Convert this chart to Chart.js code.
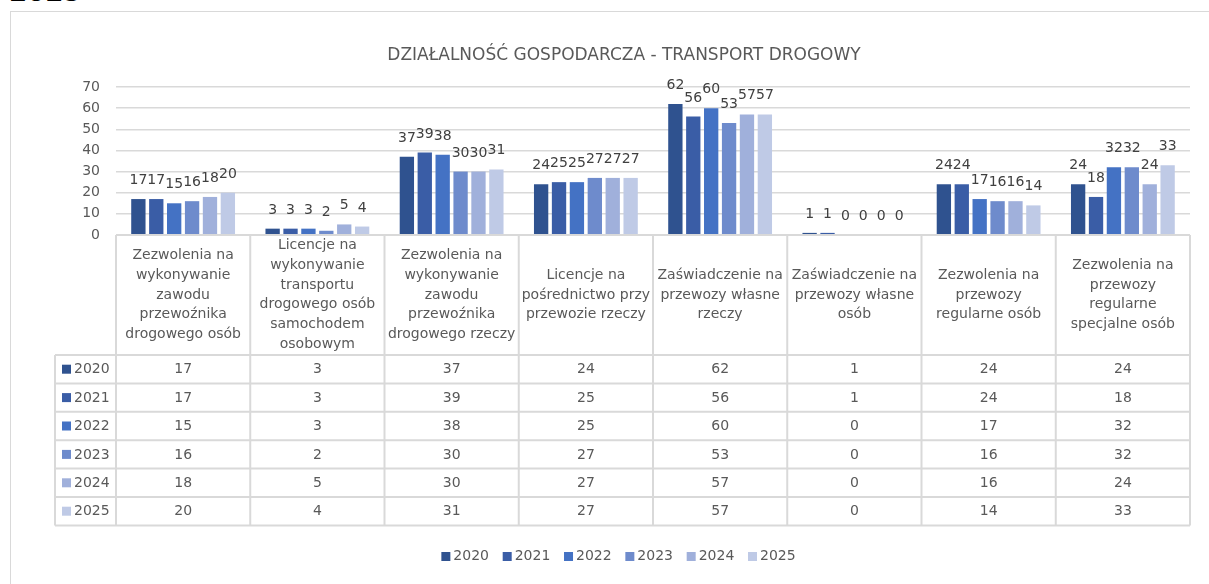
<!DOCTYPE html>
<html><head><meta charset="utf-8">
<script src="https://cdn.jsdelivr.net/npm/chart.js@4.4.1/dist/chart.umd.min.js"></script>
<style>
html,body{margin:0;padding:0;width:1209px;height:584px;overflow:hidden;background:#fff;}
#head{position:absolute;left:9px;top:-21px;font:bold 26px "DejaVu Sans";line-height:26px;color:#000;}
#frame{position:absolute;left:10px;top:11px;width:1260px;height:600px;border:1.5px solid #d9d9d9;box-sizing:border-box;}
#wrap{position:absolute;left:0;top:0;width:1209px;height:584px;}
</style></head><body>
<div id="head">2025</div>
<div id="frame"></div>
<div id="wrap"><canvas id="c"></canvas></div>
<script>
const chartTitle = 'DZIAŁALNOŚĆ GOSPODARCZA - TRANSPORT DROGOWY';
const categories = [
  ['Zezwolenia na','wykonywanie','zawodu','przewoźnika','drogowego osób'],
  ['Licencje na','wykonywanie','transportu','drogowego osób','samochodem','osobowym'],
  ['Zezwolenia na','wykonywanie','zawodu','przewoźnika','drogowego rzeczy'],
  ['Licencje na','pośrednictwo przy','przewozie rzeczy'],
  ['Zaświadczenie na','przewozy własne','rzeczy'],
  ['Zaświadczenie na','przewozy własne','osób'],
  ['Zezwolenia na','przewozy','regularne osób'],
  ['Zezwolenia na','przewozy','regularne','specjalne osób']
];
const years = ['2020','2021','2022','2023','2024','2025'];
const v2020 = [17,3,37,24,62,1,24,24];
const v2021 = [17,3,39,25,56,1,24,18];
const v2022 = [15,3,38,25,60,0,17,32];
const v2023 = [16,2,30,27,53,0,16,32];
const v2024 = [18,5,30,27,57,0,16,24];
const v2025 = [20,4,31,27,57,0,14,33];
const yMin = 0, yMax = 70, yStep = 10;
const colors = ['#2F528F','#3A5DA6','#4472C4','#6E8BCC','#A0B0DB','#BFCAE6'];
const seriesValues = [v2020,v2021,v2022,v2023,v2024,v2025];

const FONT = '"DejaVu Sans"';
const TXT = '#595959';
const LINE = '#d9d9d9';

const drawExtras = {
  id:'drawExtras',
  afterDraw(chart){
    const ctx = chart.ctx;
    const ca = chart.chartArea;
    const xs = chart.scales.x;
    const n = categories.length;
    const catW = (xs.right - xs.left) / n;
    ctx.save();
    // title
    ctx.font = '17px ' + FONT;
    ctx.fillStyle = TXT;
    ctx.textAlign = 'center';
    ctx.textBaseline = 'alphabetic';
    ctx.fillText(chartTitle, 624, 60);
    // data labels
    ctx.font = '14px ' + FONT;
    ctx.fillStyle = '#404040';
    chart.data.datasets.forEach((ds, di) => {
      const meta = chart.getDatasetMeta(di);
      meta.data.forEach((bar, i) => {
        ctx.fillText(String(ds.data[i]), bar.x, bar.y - 15);
      });
    });
    // table
    const top = ca.bottom;
    const headerH = 120;
    const rowH = 28.4;
    const labLeft = 55;
    const bottom = top + headerH + rowH * years.length;
    ctx.strokeStyle = LINE;
    ctx.lineWidth = 2;
    ctx.beginPath();
    ctx.moveTo(xs.left, top); ctx.lineTo(xs.right, top);
    for (let r = 0; r <= years.length; r++) {
      const y = top + headerH + r * rowH;
      ctx.moveTo(labLeft, y); ctx.lineTo(xs.right, y);
    }
    for (let i = 0; i <= n; i++) {
      const x = xs.left + i * catW;
      ctx.moveTo(x, top); ctx.lineTo(x, bottom);
    }
    ctx.moveTo(labLeft, top + headerH); ctx.lineTo(labLeft, bottom);
    ctx.stroke();
    // header text
    ctx.fillStyle = TXT;
    ctx.font = '14px ' + FONT;
    ctx.textBaseline = 'middle';
    ctx.textAlign = 'center';
    const lh = 19.7;
    categories.forEach((lines, i) => {
      const cx = xs.getPixelForValue(i);
      const cy = top + headerH / 2;
      const y0 = cy - (lines.length - 1) * lh / 2;
      lines.forEach((t, k) => ctx.fillText(t, cx, y0 + k * lh));
    });
    // rows
    years.forEach((yr, r) => {
      const cy = top + headerH + r * rowH + rowH / 2;
      ctx.fillStyle = colors[r];
      ctx.fillRect(62, cy - 4.5, 9, 9);
      ctx.fillStyle = TXT;
      ctx.textAlign = 'left';
      ctx.fillText(yr, 74, cy + 0.5);
      ctx.textAlign = 'center';
      seriesValues[r].forEach((v, i) => {
        ctx.fillText(String(v), xs.getPixelForValue(i), cy + 0.5);
      });
    });
    // legend
    const gap = 3, box = 9, spacing = 13.7;
    const widths = years.map(y => box + gap + ctx.measureText(y).width);
    const total = widths.reduce((a, b) => a + b, 0) + spacing * (years.length - 1);
    let lx = 618.5 - total / 2;
    const ly = 556.5;
    ctx.textAlign = 'left';
    years.forEach((yr, i) => {
      ctx.fillStyle = colors[i];
      ctx.fillRect(lx, ly - 4.5, box, box);
      ctx.fillStyle = TXT;
      ctx.fillText(yr, lx + box + gap, ly);
      lx += widths[i] + spacing;
    });
    ctx.restore();
  }
};

new Chart(document.getElementById('c'), {
  type: 'bar',
  data: {
    labels: categories,
    datasets: years.map((y, i) => ({
      label: y,
      data: seriesValues[i],
      backgroundColor: colors[i],
      borderWidth: 0,
      categoryPercentage: 0.8,
      barPercentage: 0.8
    }))
  },
  options: {
    responsive: true,
    maintainAspectRatio: false,
    animation: false,
    events: [],
    layout: { padding: { top: 87, left: 0, right: 19, bottom: 349 } },
    plugins: { legend: { display: false }, title: { display: false }, tooltip: { enabled: false } },
    scales: {
      x: { display: false },
      y: {
        min: yMin, max: yMax,
        ticks: { stepSize: yStep, padding: 16, color: TXT, font: { family: 'DejaVu Sans', size: 14 } },
        grid: { color: LINE, lineWidth: 1.5, drawTicks: false },
        border: { display: false },
        afterFit(scale) { scale.width = 116; }
      }
    }
  },
  plugins: [drawExtras]
});
</script>
</body></html>
